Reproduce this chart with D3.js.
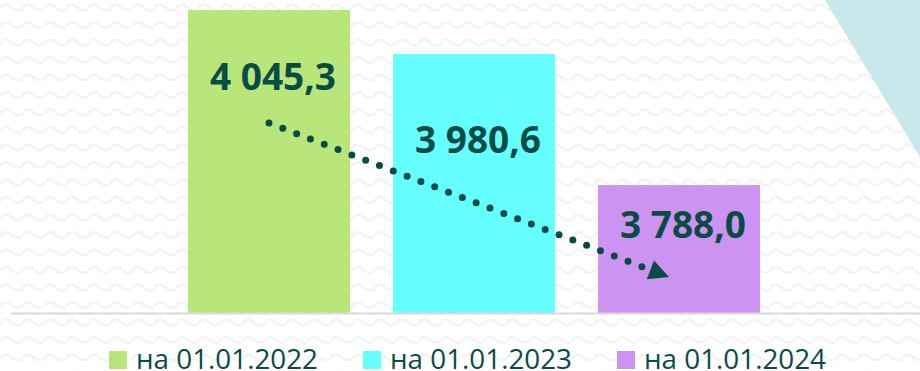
<!DOCTYPE html>
<html>
<head>
<meta charset="utf-8">
<script src="https://cdn.jsdelivr.net/npm/d3@7"></script>
<style>
  body { margin: 0; background: #fff; }
  svg { display: block; }
</style>
</head>
<body>
<div id="bar"></div>
<script>
// data
var categories = ["на 01.01.2022", "на 01.01.2023", "на 01.01.2024"];
var values = [4045.3, 3980.6, 3788.0];
var valueLabels = ["4 045,3", "3 980,6", "3 788,0"];
var colors = ["#b8e67b", "#66ffff", "#cd93f1"];

// label vertical offset below bar top (placed by hand in the original)
var labelDy = [80, 99, 53];

var width = 920, height = 371;
var textColor = "#094c45";

var svg = d3.select("#bar")
  .append("svg")
  .attr("width", width)
  .attr("height", height);

// zigzag background
var defs = svg.append("defs");
var pat = defs.append("pattern")
  .attr("id", "zig")
  .attr("patternUnits", "userSpaceOnUse")
  .attr("width", 22)
  .attr("height", 17.5);
pat.append("path")
  .attr("d", "M0,9 C3,3.5 8,3.5 11,7 C14,10.5 19,11 22,9")
  .attr("fill", "none")
  .attr("stroke", "#f3f3f3")
  .attr("stroke-width", 2.6);

svg.append("rect")
  .attr("width", width)
  .attr("height", height)
  .attr("fill", "url(#zig)");

// teal corner triangle
svg.append("polygon")
  .attr("points", "825,0 920,0 920,157")
  .attr("fill", "#c9e8ec");

// scales
var x = d3.scaleBand()
  .domain(categories)
  .range([188, 760])
  .paddingInner(0.21)
  .paddingOuter(0);

var y = d3.scaleLinear()
  .domain([3600, 4100])
  .range([313, -27.2]);

// bars
svg.selectAll("rect.bar")
  .data(values)
  .enter()
  .append("rect")
    .attr("class", "bar")
    .attr("x", function(d, i) { return x(categories[i]); })
    .attr("y", function(d) { return y(d); })
    .attr("width", x.bandwidth())
    .attr("height", function(d) { return y(3600) - y(d); })
    .attr("fill", function(d, i) { return colors[i]; });

// baseline
svg.append("line")
  .attr("x1", 11)
  .attr("x2", width)
  .attr("y1", y(3600) + 0.5)
  .attr("y2", y(3600) + 0.5)
  .attr("stroke", "#d9d9d9")
  .attr("stroke-width", 2);

// value labels
svg.selectAll("text.val")
  .data(values)
  .enter()
  .append("text")
    .attr("class", "val")
    .attr("x", function(d, i) { return x(categories[i]) + x.bandwidth() / 2 + 4; })
    .attr("y", function(d, i) { return y(d) + labelDy[i]; })
    .attr("text-anchor", "middle")
    .style("font-family", "'Open Sans', sans-serif")
    .style("font-weight", "bold")
    .style("font-size", "37px")
    .style("fill", textColor)
    .text(function(d, i) { return valueLabels[i]; });

// dotted trend arrow
var x0 = x(categories[0]) + x.bandwidth() / 2, y0 = y(values[0]) + 113;
var x1 = x(categories[2]) + 71, y1 = y(values[2]) + 92;
var ang = Math.atan2(y1 - y0, x1 - x0);
var headLen = 20, headW = 10;
var bx = x1 - headLen * Math.cos(ang), by = y1 - headLen * Math.sin(ang);

svg.append("line")
  .attr("x1", x0).attr("y1", y0)
  .attr("x2", bx - 6 * Math.cos(ang)).attr("y2", by - 6 * Math.sin(ang))
  .attr("stroke", textColor)
  .attr("stroke-width", 7)
  .attr("stroke-linecap", "round")
  .attr("stroke-dasharray", "0,14.8");

svg.append("path")
  .attr("d", d3.line()([
    [x1, y1],
    [bx + headW * Math.sin(ang), by - headW * Math.cos(ang)],
    [bx - headW * Math.sin(ang), by + headW * Math.cos(ang)]
  ]) + "Z")
  .attr("fill", textColor);

// legend
var legend = svg.append("g")
  .selectAll("g")
  .data(categories)
  .enter().append("g")
  .attr("transform", function(d, i) { return "translate(" + (109 + i * 254) + ",0)"; });

legend.append("rect")
  .attr("y", 351)
  .attr("width", 18)
  .attr("height", 18)
  .attr("fill", function(d, i) { return colors[i]; });

legend.append("text")
  .attr("x", 27)
  .attr("y", 369)
  .style("font-family", "'Open Sans', sans-serif")
  .style("font-size", "27.8px")
  .style("fill", textColor)
  .text(function(d) { return d; });
</script>
</body>
</html>
